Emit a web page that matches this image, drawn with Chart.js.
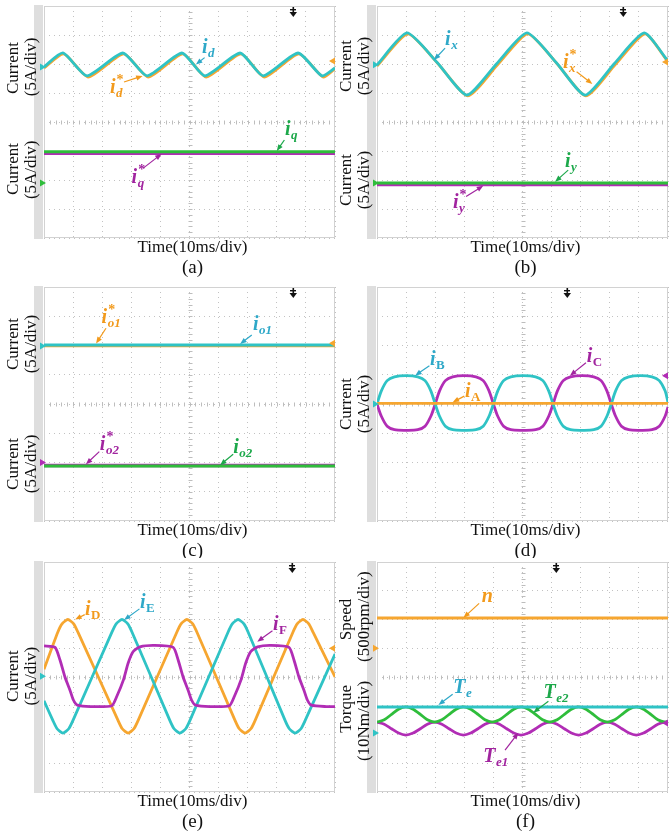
<!DOCTYPE html>
<html>
<head>
<meta charset="utf-8">
<script src="https://cdn.jsdelivr.net/npm/chart.js@4.4.1/dist/chart.umd.min.js"></script>
<style>
html, body { margin: 0; padding: 0; background: #fff; }
body { width: 669px; height: 833px; position: relative; overflow: hidden; }
.panel { position: absolute; }
</style>
</head>
<body>
<div class="panel" style="left:0;top:0"><canvas id="pa" width="336" height="278"></canvas></div>
<div class="panel" style="left:333px;top:0"><canvas id="pb" width="336" height="278"></canvas></div>
<div class="panel" style="left:0;top:280px"><canvas id="pc" width="336" height="278"></canvas></div>
<div class="panel" style="left:333px;top:280px"><canvas id="pd" width="336" height="278"></canvas></div>
<div class="panel" style="left:0;top:555px"><canvas id="pe" width="336" height="278"></canvas></div>
<div class="panel" style="left:333px;top:555px"><canvas id="pf" width="336" height="278"></canvas></div>
<script>
// x values in ms (10 ms/div), y values in screen divisions (0 = centre line)

// (a) d/q currents
const aIdTime    = [0, 6.5, 14.8, 27.1, 35.4, 47.4, 55.3, 67.4, 75.3, 87.3, 95.5, 100];
const aId        = [1.9, 2.38, 1.59, 2.38, 1.59, 2.38, 1.59, 2.38, 1.59, 2.38, 1.59, 1.86];
const aIdRefTime = [0, 6.8, 15.2, 27.4, 35.8, 47.7, 55.7, 67.7, 75.7, 87.6, 95.9, 100];
const aIdRef     = [1.86, 2.35, 1.55, 2.35, 1.55, 2.35, 1.55, 2.35, 1.55, 2.35, 1.55, 1.84];
const flatTime   = [0, 100];
const aIq        = [-1.03, -1.03];
const aIqRef     = [-1.09, -1.09];

// (b) x/y currents
const bIxTime    = [0, 10.3, 20.6, 30.9, 41.2, 51.5, 61.5, 71.5, 81.6, 91.8, 100];
const bIx        = [1.97, 3.07, 2.06, 0.93, 2.02, 3.07, 2.06, 0.93, 2.02, 3.07, 2.1];
const bIxRefTime = [0, 10.6, 20.9, 31.2, 41.5, 51.8, 61.8, 71.8, 81.9, 92.1, 100];
const bIxRef     = [1.93, 3.04, 2.02, 0.9, 1.98, 3.04, 2.02, 0.9, 1.98, 3.04, 2.07];
const bIy        = [-2.1, -2.1];
const bIyRef     = [-2.16, -2.16];

// (c) o1/o2 currents
const cIo1    = [2.02, 2.02];
const cIo1Ref = [1.99, 1.99];
const cIo2    = [-2.12, -2.12];
const cIo2Ref = [-2.1, -2.1];

// (d) phase currents A, B, C
const dTime = [0, 1.5, 3.5, 6, 10, 14, 16.5, 18.5,
               20, 21.5, 23.5, 26, 30, 34, 36.5, 38.5,
               40, 41.5, 43.5, 46, 50.2, 54.5, 57, 59,
               60.5, 62, 64, 66.5, 70.5, 74.5, 77, 79,
               80.5, 82, 84, 86.5, 90.5, 94.5, 97, 99, 100];
const dIB = [0, 0.45, 0.8, 0.93, 0.97, 0.93, 0.8, 0.45,
             0, -0.42, -0.76, -0.88, -0.9, -0.88, -0.76, -0.42,
             0, 0.45, 0.8, 0.93, 0.97, 0.93, 0.8, 0.45,
             0, -0.42, -0.76, -0.88, -0.9, -0.88, -0.76, -0.42,
             0, 0.45, 0.8, 0.93, 0.97, 0.93, 0.8, 0.45, 0.05];
const dIC = [0, -0.42, -0.76, -0.88, -0.9, -0.88, -0.76, -0.42,
             0, 0.45, 0.8, 0.93, 0.97, 0.93, 0.8, 0.45,
             0, -0.42, -0.76, -0.88, -0.9, -0.88, -0.76, -0.42,
             0, 0.45, 0.8, 0.93, 0.97, 0.93, 0.8, 0.45,
             0, -0.42, -0.76, -0.88, -0.9, -0.88, -0.76, -0.42, -0.1];
const dIA = [0.02, 0.02];

// (e) phase currents D, E, F
const eIDTime = [0, 4.7, 6.2, 8.2, 10.2, 11.7, 25.4, 26.9, 28.9, 30.9, 32.4,
                 45.6, 47.1, 49.1, 51.1, 52.6, 65.6, 67.1, 69.1, 71.1, 72.6,
                 85.5, 87, 89, 91, 92.5, 100];
const eID     = [0.27, 1.55, 1.85, 2.0, 1.85, 1.55, -1.5, -1.8, -1.95, -1.8, -1.5,
                 1.55, 1.85, 2.0, 1.85, 1.55, -1.5, -1.8, -1.95, -1.8, -1.5,
                 1.55, 1.85, 2.0, 1.85, 1.55, 0.0];
const eIETime = [0, 3.0, 4.5, 6.5, 8.5, 10.0, 23.3, 24.8, 26.8, 28.8, 30.3,
                 43.2, 44.7, 46.7, 48.7, 50.2, 63.2, 64.7, 66.7, 68.7, 70.2,
                 82.8, 84.3, 86.3, 88.3, 89.8, 100];
const eIE     = [-0.83, -1.5, -1.8, -1.95, -1.8, -1.5, 1.55, 1.85, 2.0, 1.85, 1.55,
                 -1.5, -1.8, -1.95, -1.8, -1.5, 1.55, 1.85, 2.0, 1.85, 1.55,
                 -1.5, -1.8, -1.95, -1.8, -1.5, 0.8];
const eIFTime = [0, 3.8, 5.5, 7.2, 8.9, 10.1, 11.5, 16, 23.3, 25.0, 27.3, 28.9, 30.6, 33.0, 38,
                 44.4, 46.1, 47.8, 49.5, 50.7, 52.1, 57, 63.7, 65.4, 67.7, 69.3, 71.0, 73.4, 78,
                 84.2, 85.9, 87.6, 89.3, 90.5, 91.9, 97, 100];
const eIF     = [1.08, 1.03, 0.59, 0.0, -0.45, -0.8, -0.98, -1.03, -1.0, -0.68, -0.1, 0.48, 0.88, 1.05, 1.1,
                 1.03, 0.59, 0.0, -0.45, -0.8, -0.98, -1.03, -1.0, -0.68, -0.1, 0.48, 0.88, 1.05, 1.1,
                 1.03, 0.59, 0.0, -0.45, -0.8, -0.98, -1.03, -1.03];

// (f) speed and torques
const fN    = [2.05, 2.05];
const fTe   = [-1.04, -1.04];
const fTime = [0, 2.5, 5, 7.4, 9.9, 12.4, 14.9, 17.3,
               19.8, 22.3, 24.8, 27.2, 29.7, 32.2, 34.7, 37.1,
               39.6, 42.1, 44.6, 47, 49.5, 52, 54.5, 56.9,
               59.4, 61.9, 64.4, 66.8, 69.3, 71.8, 74.3, 76.7,
               79.2, 81.7, 84.2, 86.6, 89.1, 91.6, 94.1, 96.5, 99, 100];
const fTe2  = [-1.57, -1.49, -1.3, -1.12, -1.04, -1.12, -1.3, -1.49,
               -1.57, -1.49, -1.3, -1.12, -1.04, -1.12, -1.3, -1.49,
               -1.57, -1.49, -1.3, -1.12, -1.04, -1.12, -1.3, -1.49,
               -1.57, -1.49, -1.3, -1.12, -1.04, -1.12, -1.3, -1.49,
               -1.57, -1.49, -1.3, -1.12, -1.04, -1.12, -1.3, -1.49, -1.57, -1.54];
const fTe1  = [-1.57, -1.64, -1.8, -1.95, -2.02, -1.95, -1.8, -1.64,
               -1.57, -1.64, -1.8, -1.95, -2.02, -1.95, -1.8, -1.64,
               -1.57, -1.64, -1.8, -1.95, -2.02, -1.95, -1.8, -1.64,
               -1.57, -1.64, -1.8, -1.95, -2.02, -1.95, -1.8, -1.64,
               -1.57, -1.64, -1.8, -1.95, -2.02, -1.95, -1.8, -1.64, -1.57, -1.6];

const TEAL = '#2fc3c5', ORANGE = '#f6a630', MAGENTA = '#b12db5', GREEN = '#2fbd3b';
const TEAL_L = '#2ea8c8', ORANGE_L = '#f29a1c', MAGENTA_L = '#a1249f', GREEN_L = '#1ca84a';
const SERIF = '"Liberation Serif", "Times New Roman", serif';

function toPoints(xs, ys) {
    return xs.map((t, i) => ({ x: t, y: ys[i] }));
}

function drawRich(ctx, px, py, lab) {
    ctx.fillStyle = lab.color;
    ctx.textBaseline = 'alphabetic';
    ctx.textAlign = 'left';
    ctx.font = 'italic bold 20px ' + SERIF;
    ctx.fillText(lab.main, px, py);
    const w = ctx.measureText(lab.main).width;
    if (lab.sub) {
        ctx.font = (lab.upright ? 'bold ' : 'italic bold ') + '13px ' + SERIF;
        ctx.fillText(lab.sub, px + w + 0.5, py + 4);
    }
    if (lab.sup) {
        ctx.font = 'bold 14px ' + SERIF;
        ctx.fillText(lab.sup, px + w + 1, py - 9);
    }
}

function drawArrow(ctx, x1, y1, x2, y2, color) {
    const ang = Math.atan2(y2 - y1, x2 - x1);
    ctx.strokeStyle = color;
    ctx.fillStyle = color;
    ctx.lineWidth = 1.2;
    ctx.beginPath();
    ctx.moveTo(x1, y1);
    ctx.lineTo(x2 - 4 * Math.cos(ang), y2 - 4 * Math.sin(ang));
    ctx.stroke();
    ctx.beginPath();
    ctx.moveTo(x2, y2);
    ctx.lineTo(x2 - 6.5 * Math.cos(ang) + 2.6 * Math.sin(ang), y2 - 6.5 * Math.sin(ang) - 2.6 * Math.cos(ang));
    ctx.lineTo(x2 - 6.5 * Math.cos(ang) - 2.6 * Math.sin(ang), y2 - 6.5 * Math.sin(ang) + 2.6 * Math.cos(ang));
    ctx.closePath();
    ctx.fill();
}

// oscilloscope decorations: side strip, frame, centre ticks, markers, texts
const scopePlugin = {
    id: 'scope',
    beforeDatasetsDraw(chart, args, opts) {
        const { ctx, chartArea: a, scales: { x, y } } = chart;
        ctx.save();
        ctx.fillStyle = '#dedede';
        ctx.fillRect(a.left - 10, a.top - 1, 9, a.bottom - a.top + 2);
        ctx.strokeStyle = '#d2d2d2';
        ctx.lineWidth = 1;
        ctx.strokeRect(a.left + 0.5, a.top + 0.5, a.right - a.left - 1, a.bottom - a.top - 1);
        // minor ticks on the centre cross
        ctx.strokeStyle = '#bdbdbd';
        const y0 = Math.round(y.getPixelForValue(0)) + 0.5;
        const x0 = Math.round(x.getPixelForValue(50)) + 0.5;
        ctx.beginPath();
        for (let t = 2; t < 100; t += 2) {
            const px = Math.round(x.getPixelForValue(t)) + 0.5;
            ctx.moveTo(px, y0 - 2); ctx.lineTo(px, y0 + 2);
        }
        for (let v = -3.8; v < 4; v += 0.2) {
            const py = Math.round(y.getPixelForValue(v)) + 0.5;
            ctx.moveTo(x0 - 2, py); ctx.lineTo(x0 + 2, py);
        }
        ctx.stroke();
        ctx.restore();
    },
    afterDraw(chart, args, opts) {
        const { ctx, chartArea: a, scales: { x, y } } = chart;
        ctx.save();
        // ground markers on the left edge
        (opts.leftMarks || []).forEach(([v, c]) => {
            const py = y.getPixelForValue(v);
            ctx.fillStyle = c;
            ctx.beginPath();
            ctx.moveTo(a.left + 2, py);
            ctx.lineTo(a.left - 4, py - 3.5);
            ctx.lineTo(a.left - 4, py + 3.5);
            ctx.closePath();
            ctx.fill();
        });
        // trigger level markers on the right edge
        (opts.rightMarks || []).forEach(([v, c]) => {
            const py = y.getPixelForValue(v);
            ctx.fillStyle = c;
            ctx.beginPath();
            ctx.moveTo(a.right - 6, py);
            ctx.lineTo(a.right, py - 3.5);
            ctx.lineTo(a.right, py + 3.5);
            ctx.closePath();
            ctx.fill();
            ctx.fillRect(a.right - 4, py - 1, 4, 2);
        });
        // trigger position marker at the top
        if (opts.trig !== undefined) {
            const px = Math.round(x.getPixelForValue(opts.trig));
            ctx.fillStyle = '#111';
            ctx.fillRect(px - 0.5, a.top + 1, 1.6, 6);
            ctx.fillRect(px - 3, a.top + 3, 6, 1.4);
            ctx.beginPath();
            ctx.moveTo(px - 3.5, a.top + 6);
            ctx.lineTo(px + 4, a.top + 6);
            ctx.lineTo(px + 0.3, a.top + 11);
            ctx.closePath();
            ctx.fill();
        }
        // trace labels with arrows
        (opts.labels || []).forEach(lab => {
            drawArrow(ctx, x.getPixelForValue(lab.tail[0]), y.getPixelForValue(lab.tail[1]),
                x.getPixelForValue(lab.head[0]), y.getPixelForValue(lab.head[1]), lab.color);
            drawRich(ctx, x.getPixelForValue(lab.x), y.getPixelForValue(lab.y), lab);
        });
        // rotated axis texts
        ctx.fillStyle = '#111';
        ctx.font = '17px ' + SERIF;
        ctx.textAlign = 'center';
        ctx.textBaseline = 'middle';
        (opts.yTexts || []).forEach(([t, dx, v]) => {
            ctx.save();
            ctx.translate(a.left + dx, y.getPixelForValue(v));
            ctx.rotate(-Math.PI / 2);
            ctx.fillText(t, 0, 0);
            ctx.restore();
        });
        const cx = (a.left + a.right) / 2 + 3;
        ctx.fillText('Time(10ms/div)', cx, a.bottom + 10);
        ctx.font = '19px ' + SERIF;
        ctx.fillText(opts.caption, cx, a.bottom + 30);
        ctx.restore();
    }
};

function makePanel(id, top, bottom, series, scope) {
    return new Chart(document.getElementById(id), {
        type: 'line',
        data: {
            datasets: series.map(s => ({
                data: toPoints(s.x, s.y),
                borderColor: s.color,
                borderWidth: s.width || 2.8,
                pointRadius: 0,
                tension: s.tension || 0,
                fill: false
            }))
        },
        options: {
            responsive: false,
            animation: false,
            devicePixelRatio: 1,
            layout: { padding: { left: 44, right: 1, top: top, bottom: bottom } },
            plugins: { legend: { display: false }, tooltip: { enabled: false }, scope: scope },
            scales: {
                x: {
                    type: 'linear', min: 0, max: 100,
                    ticks: { display: false, stepSize: 10 },
                    grid: { color: '#c2c2c2', lineWidth: 1, drawTicks: false },
                    border: { display: false, dash: [1, 4] },
                    afterFit: s => { s.height = 0; }
                },
                y: {
                    type: 'linear', min: -4, max: 4,
                    ticks: { display: false, stepSize: 1 },
                    grid: { color: '#c2c2c2', lineWidth: 1, drawTicks: false },
                    border: { display: false, dash: [1, 4] },
                    afterFit: s => { s.width = 0; }
                }
            }
        },
        plugins: [scopePlugin]
    });
}

const curTexts = (v1, v2) => [['Current', -30, v1], ['(5A/div)', -12, v1], ['Current', -30, v2], ['(5A/div)', -12, v2]];

makePanel('pa', 6, 40, [
    { x: aIdTime, y: aId, color: TEAL, tension: 0.2 },
    { x: aIdRefTime, y: aIdRef, color: ORANGE, tension: 0.2 },
    { x: flatTime, y: aIq, color: GREEN, width: 3 },
    { x: flatTime, y: aIqRef, color: MAGENTA, width: 3 }
], {
    caption: '(a)', trig: 85.6,
    yTexts: [['Current', -30, 1.86], ['(5A/div)', -12, 1.9], ['Current', -30, -1.62], ['(5A/div)', -12, -1.65]],
    leftMarks: [[1.9, TEAL], [-2.1, GREEN]],
    rightMarks: [[2.1, ORANGE]],
    labels: [
        { main: 'i', sub: 'd', color: TEAL_L, x: 54.3, y: 2.38, tail: [55.2, 2.22], head: [52.2, 1.98] },
        { main: 'i', sub: 'd', sup: '*', color: ORANGE_L, x: 22.7, y: 1.0, tail: [27.5, 1.38], head: [33.9, 1.59] },
        { main: 'i', sub: 'q', color: GREEN_L, x: 82.8, y: -0.45, tail: [82.6, -0.62], head: [80, -1.0] },
        { main: 'i', sub: 'q', sup: '*', color: MAGENTA_L, x: 30.1, y: -2.1, tail: [34.1, -1.59], head: [40.4, -1.1] }
    ]
});

makePanel('pb', 6, 40, [
    { x: bIxTime, y: bIx, color: TEAL, tension: 0.2 },
    { x: bIxRefTime, y: bIxRef, color: ORANGE, tension: 0.2 },
    { x: flatTime, y: bIy, color: GREEN, width: 3 },
    { x: flatTime, y: bIyRef, color: MAGENTA, width: 3 }
], {
    caption: '(b)', trig: 84.5,
    yTexts: curTexts(1.93, -2.0),
    leftMarks: [[1.97, TEAL], [-2.1, GREEN]],
    rightMarks: [[2.07, ORANGE]],
    labels: [
        { main: 'i', sub: 'x', color: TEAL_L, x: 23.4, y: 2.66, tail: [23.4, 2.55], head: [19.6, 2.14] },
        { main: 'i', sub: 'x', sup: '*', color: ORANGE_L, x: 63.9, y: 1.86, tail: [68.6, 1.73], head: [74, 1.31] },
        { main: 'i', sub: 'y', color: GREEN_L, x: 64.6, y: -1.54, tail: [65.7, -1.66], head: [61.2, -2.06] },
        { main: 'i', sub: 'y', sup: '*', color: MAGENTA_L, x: 26.1, y: -2.97, tail: [30.6, -2.57], head: [36.5, -2.2] }
    ]
});

makePanel('pc', 7, 37, [
    { x: flatTime, y: cIo1, color: TEAL, width: 3 },
    { x: flatTime, y: cIo1Ref, color: ORANGE, width: 3 },
    { x: flatTime, y: cIo2, color: GREEN, width: 3 },
    { x: flatTime, y: cIo2Ref, color: MAGENTA, width: 3.6 }
], {
    caption: '(c)', trig: 85.6,
    yTexts: curTexts(2.05, -2.05),
    leftMarks: [[1.98, TEAL], [-2.0, MAGENTA]],
    rightMarks: [[2.08, ORANGE]],
    labels: [
        { main: 'i', sub: 'o1', sup: '*', color: ORANGE_L, x: 19.8, y: 2.76, tail: [21.3, 2.59], head: [17.9, 2.07] },
        { main: 'i', sub: 'o1', color: TEAL_L, x: 71.8, y: 2.53, tail: [71.4, 2.36], head: [67.4, 2.05] },
        { main: 'i', sub: 'o2', sup: '*', color: MAGENTA_L, x: 19.2, y: -1.57, tail: [19.0, -1.63], head: [14.4, -2.06] },
        { main: 'i', sub: 'o2', color: GREEN_L, x: 65, y: -1.68, tail: [65, -1.72], head: [60.5, -2.09] }
    ]
});

makePanel('pd', 7, 37, [
    { x: flatTime, y: dIA, color: ORANGE, width: 2.6 },
    { x: dTime, y: dIB, color: TEAL, tension: 0.3 },
    { x: dTime, y: dIC, color: MAGENTA, tension: 0.3 }
], {
    caption: '(d)', trig: 65.3,
    yTexts: [['Current', -30, 0], ['(5A/div)', -12, 0]],
    leftMarks: [[0, TEAL]],
    rightMarks: [[0.97, MAGENTA]],
    labels: [
        { main: 'i', sub: 'B', upright: true, color: TEAL_L, x: 18.2, y: 1.33, tail: [18.0, 1.31], head: [13.1, 0.97] },
        { main: 'i', sub: 'C', upright: true, color: MAGENTA_L, x: 72.1, y: 1.43, tail: [71.8, 1.41], head: [66.3, 0.97] },
        { main: 'i', sub: 'A', upright: true, color: ORANGE_L, x: 30.2, y: 0.25, tail: [30, 0.27], head: [26, 0.06] }
    ]
});

makePanel('pe', 7, 41, [
    { x: eIFTime, y: eIF, color: MAGENTA, tension: 0.2 },
    { x: eIETime, y: eIE, color: TEAL, tension: 0.2 },
    { x: eIDTime, y: eID, color: ORANGE, tension: 0.2 }
], {
    caption: '(e)', trig: 85.1,
    yTexts: [['Current', -30, 0.03], ['(5A/div)', -12, 0.03]],
    leftMarks: [[0.03, TEAL]],
    rightMarks: [[1.0, ORANGE]],
    labels: [
        { main: 'i', sub: 'D', upright: true, color: ORANGE_L, x: 14.1, y: 2.16, tail: [14.0, 2.17], head: [10.7, 2.0] },
        { main: 'i', sub: 'E', upright: true, color: TEAL_L, x: 33, y: 2.39, tail: [32.8, 2.37], head: [27.5, 1.98] },
        { main: 'i', sub: 'F', upright: true, color: MAGENTA_L, x: 78.7, y: 1.63, tail: [78.5, 1.61], head: [73.3, 1.23] }
    ]
});

makePanel('pf', 7, 41, [
    { x: flatTime, y: fN, color: ORANGE, width: 3 },
    { x: flatTime, y: fTe, color: TEAL, width: 3 },
    { x: fTime, y: fTe2, color: GREEN, tension: 0.25 },
    { x: fTime, y: fTe1, color: MAGENTA, tension: 0.25 }
], {
    caption: '(f)', trig: 61.5,
    yTexts: [['Speed', -30, 2.0], ['(500rpm/div)', -12, 2.1], ['Torque', -30, -1.11], ['(10Nm/div)', -12, -1.53]],
    leftMarks: [[1.0, ORANGE], [-1.95, TEAL]],
    rightMarks: [[-1.6, MAGENTA]],
    labels: [
        { main: 'n', color: ORANGE_L, x: 36, y: 2.62, tail: [35.1, 2.56], head: [29.7, 2.06] },
        { main: 'T', sub: 'e', color: TEAL_L, x: 26.2, y: -0.57, tail: [26.0, -0.6], head: [21.1, -0.97] },
        { main: 'T', sub: 'e2', color: GREEN_L, x: 57.2, y: -0.74, tail: [58.9, -0.84], head: [53.7, -1.24] },
        { main: 'T', sub: 'e1', color: MAGENTA_L, x: 36.5, y: -2.95, tail: [44, -2.54], head: [48.6, -1.94] }
    ]
});
</script>
</body>
</html>
